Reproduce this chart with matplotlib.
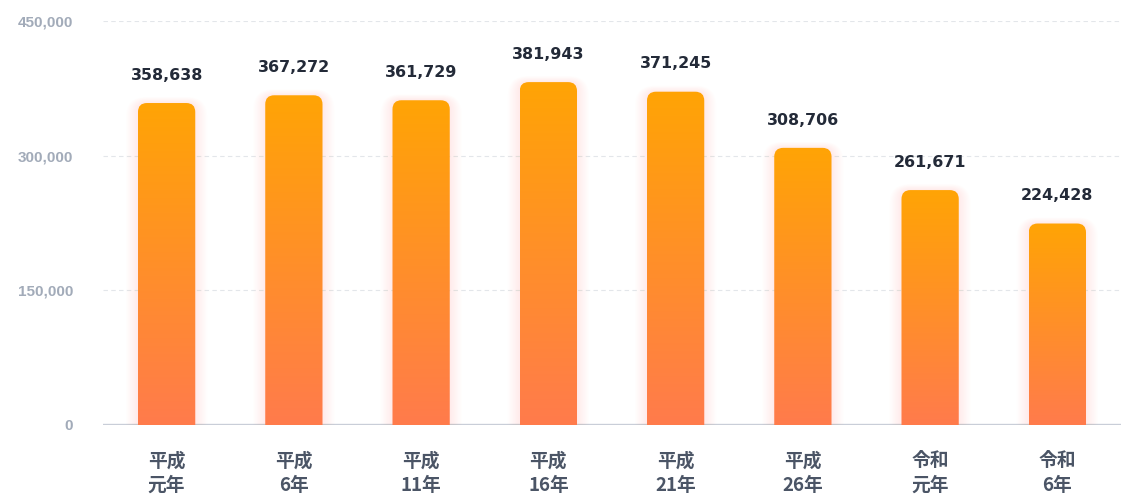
import numpy as np
import matplotlib
matplotlib.use("Agg")
import matplotlib.pyplot as plt
from matplotlib.path import Path
from matplotlib.patches import PathPatch
from matplotlib.transforms import IdentityTransform
from matplotlib.colors import LinearSegmentedColormap
from matplotlib.ticker import FuncFormatter

categories = ["平成\n元年", "平成\n6年", "平成\n11年", "平成\n16年", "平成\n21年", "平成\n26年", "令和\n元年", "令和\n6年"]
values = [358638, 367272, 361729, 381943, 371245, 308706, 261671, 224428]
yticks = [0, 150000, 300000, 450000]

W, H, DPI = 1123, 504, 100
fig = plt.figure(figsize=(W / DPI, H / DPI), dpi=DPI)
ax = fig.add_axes([103 / W, 1 - 425 / H, (1121 - 103) / W, 404 / H])
ax.set_xlim(-0.5, len(values) - 0.5)
ax.set_ylim(0, 450000)

for s in ax.spines.values():
    s.set_visible(False)
ax.axhline(0, color="#c9ced8", lw=2.4, zorder=1)
for t in yticks[1:]:
    ax.axhline(t, color="#e3e6ea", lw=0.8, ls=(0, (4, 3)), zorder=0)

ax.set_yticks(yticks)
ax.yaxis.set_major_formatter(FuncFormatter(lambda v, p: f"{int(v):,}"))
ax.tick_params(axis="y", length=0, pad=21.5, labelsize=11, labelcolor="#a2abb9")
for lab in ax.get_yticklabels():
    lab.set_fontfamily(["Liberation Sans", "DejaVu Sans"])
    lab.set_fontweight("bold")

x = np.arange(len(values))
ax.set_xticks(x)
ax.set_xticklabels(categories, fontfamily=["Noto Sans CJK JP", "DejaVu Sans"], fontweight="bold",
                   fontsize=13.5, color="#4b5566", linespacing=1.38)
ax.tick_params(axis="x", length=0, pad=19)

width = 0.45
bars = ax.bar(x, values, width=width, color="none", edgecolor="none", zorder=3)

cmap = LinearSegmentedColormap.from_list("g", ["#ff7b4c", "#ffa405"])
grad = np.linspace(0, 1, 256).reshape(-1, 1)

def rounded_top_path(x0, y0, x1, y1, r):
    verts = [(x0, y0), (x0, y1 - r), (x0, y1), (x0 + r, y1), (x1 - r, y1), (x1, y1), (x1, y1 - r), (x1, y0), (x0, y0)]
    codes = [Path.MOVETO, Path.LINETO, Path.CURVE3, Path.CURVE3, Path.LINETO, Path.CURVE3, Path.CURVE3, Path.LINETO, Path.CLOSEPOLY]
    return Path(verts, codes)

for b, v in zip(bars, values):
    bx0, by0 = b.get_x(), 0
    bx1, by1 = b.get_x() + b.get_width(), v
    (px0, py0), (px1, py1) = ax.transData.transform([(bx0, by0), (bx1, by1)])
    # soft glow
    for k in range(1, 11):
        e = k * 1.2
        gp = rounded_top_path(px0 - e, py0, px1 + e, py1 + e * 0.5, 8 + e)
        ax.add_patch(PathPatch(gp, transform=IdentityTransform(), facecolor="#ff9478",
                               edgecolor="none", alpha=0.01, zorder=2))
    path = rounded_top_path(px0, py0, px1, py1, 9)
    clip = PathPatch(path, transform=IdentityTransform(), facecolor="none", edgecolor="none")
    ax.add_patch(clip)
    im = ax.imshow(grad, cmap=cmap, aspect="auto", extent=(bx0, bx1, 0, v), origin="lower",
                   zorder=3, interpolation="bicubic")
    im.set_clip_path(clip)
    ax.annotate(f"{v:,}", (b.get_x() + b.get_width() / 2, v), xytext=(0, 20), textcoords="offset points",
                ha="center", va="center", fontsize=11.4, fontweight="bold", color="#232a38",
                fontfamily=["DejaVu Sans"], zorder=5)

ax.set_xlim(-0.5, len(values) - 0.5)
ax.set_ylim(0, 450000)
fig.savefig("out.png", dpi=DPI)
